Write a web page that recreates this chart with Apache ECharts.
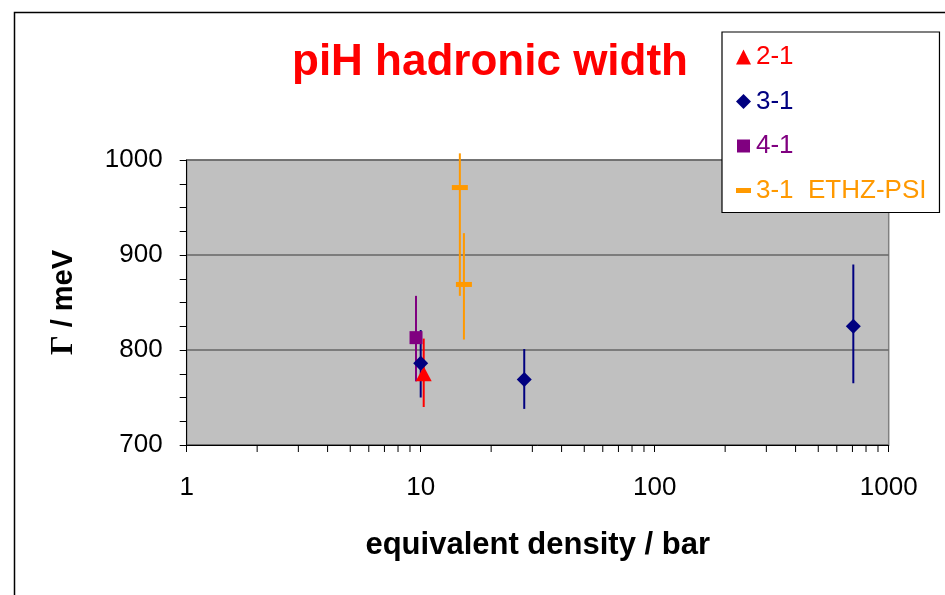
<!DOCTYPE html>
<html><head><meta charset="utf-8">
<script src="https://cdn.jsdelivr.net/npm/echarts@6/dist/echarts.min.js"></script>
<style>html,body{margin:0;padding:0;background:#fff}#c{width:945px;height:595px}</style>
</head><body><div id="c"></div>
<script>
// ---- data ----
const titleText = 'piH hadronic width';
const xName = 'equivalent density / bar';
const yTicks = [700, 800, 900, 1000];
const xTickLabels = [1, 10, 100, 1000];

const name21 = '2-1';
const density21 = [10.3];
const gamma21 = [775];
const low21 = [740];
const high21 = [812];

const name31 = '3-1';
const density31 = [10.0, 27.7, 706];
const gamma31 = [786, 769, 825];
const low31 = [750, 738, 765];
const high31 = [821, 801, 890];

const name41 = '4-1';
const density41 = [9.55];
const gamma41 = [813];
const low41 = [767];
const high41 = [857];

const nameEth = '3-1  ETHZ-PSI';
const densityEth = [14.7, 15.3];
const gammaEth = [971, 869];
const lowEth = [857, 811];
const highEth = [1007, 923];

// ---- build ----
const colors = {r:'#ff0000', b:'#000080', p:'#800080', o:'#ff9900'};
function rows(xs, ys, lo, hi){ return xs.map((x,i)=>[x, ys[i], lo[i], hi[i]]); }
function errRender(color){
  return function(params, api){
    const x = api.value(0), lo = api.value(2), hi = api.value(3);
    const a = api.coord([x, lo]), b = api.coord([x, hi]);
    return {type:'line', shape:{x1:a[0], y1:a[1], x2:b[0], y2:b[1]}, style:{stroke:color, lineWidth:2}};
  };
}
function errSeries(id, data, color){
  return {type:'custom', name:id+' err', renderItem:errRender(color), data:data,
    encode:{x:0, y:[2,3]}, clip:false, z:3, silent:true};
}
function ptSeries(name, data, color, symbol, size, z){
  return {type:'scatter', name:name, data:data.map(r=>[r[0], r[1]]), symbol:symbol, symbolSize:size,
    itemStyle:{color:color, opacity:1}, z:z || 4};
}
// log minor ticks 2..9 within each decade
const minorVals = [];
[1, 10, 100].forEach(d=>{ for(let k=2;k<=9;k++) minorVals.push(d*k); });

const d21 = rows(density21, gamma21, low21, high21);
const d31 = rows(density31, gamma31, low31, high31);
const d41 = rows(density41, gamma41, low41, high41);
const dEth = rows(densityEth, gammaEth, lowEth, highEth);

const chart = echarts.init(document.getElementById('c'), null, {renderer:'canvas'});
const font = '"Liberation Sans", Arial, sans-serif';
chart.setOption({
  animation:false,
  backgroundColor:'#fff',
  textStyle:{fontFamily:font},
  title:{text:titleText, left:490, top:41, textAlign:'center', padding:0,
    textStyle:{color:'#ff0000', fontSize:44, fontWeight:'bold', fontFamily:font, lineHeight:44}},
  grid:{left:186.7, right:56.3, top:160, bottom:150, show:true, backgroundColor:'#c0c0c0',
    borderColor:'#808080', borderWidth:1.5},
  legend:{left:722, top:32, orient:'vertical', padding:[12,13,9,14], itemGap:18.5,
    itemWidth:15, itemHeight:15, backgroundColor:'#fff', borderColor:'#000', borderWidth:1.2,
    textStyle:{fontSize:26, fontFamily:font, lineHeight:26},
    data:[
      {name:name21, icon:'triangle', textStyle:{color:colors.r}},
      {name:name31, icon:'diamond', textStyle:{color:colors.b}},
      {name:name41, icon:'path://M0,0M1,1L14,1L14,14L1,14ZM15,15', textStyle:{color:colors.p}},
      {name:nameEth, icon:'path://M0,0M0,5L15,5L15,10L0,10ZM15,15', textStyle:{color:colors.o}}
    ]},
  xAxis:{type:'log', logBase:10, min:xTickLabels[0], max:xTickLabels[xTickLabels.length-1],
    name:xName, nameLocation:'middle', nameGap:85,
    nameTextStyle:{fontSize:31, fontWeight:'bold', color:'#000', fontFamily:font},
    axisLine:{show:true, onZero:false, lineStyle:{color:'#000', width:1}},
    axisTick:{show:true, length:7, lineStyle:{color:'#000'}},
    axisLabel:{fontSize:26, color:'#000', margin:30, fontFamily:font, formatter:v=>String(v)},
    splitLine:{show:false}},
  yAxis:{type:'value', min:yTicks[0], max:yTicks[yTicks.length-1], interval:100,
    name:'{g|Γ} / meV', nameLocation:'middle', nameGap:107, nameRotate:90,
    nameTextStyle:{fontSize:29, fontWeight:'bold', color:'#000', fontFamily:font,
      rich:{g:{fontFamily:'"Liberation Serif", "Times New Roman", serif', fontSize:31, fontWeight:'bold', color:'#000'}}},
    axisLine:{show:true, lineStyle:{color:'#000', width:1}},
    axisTick:{show:true, length:7, lineStyle:{color:'#000'}},
    minorTick:{show:true, splitNumber:4, length:7, lineStyle:{color:'#000'}},
    axisLabel:{fontSize:26, color:'#000', margin:24, fontFamily:font, formatter:v=>String(v)},
    splitLine:{show:true, lineStyle:{color:'#666', width:1.5}}},
  series:[
    {type:'custom', name:'minor ticks', silent:true, clip:false, z:5,
      data:minorVals.map(v=>[v, yTicks[0]]),
      renderItem:function(params, api){
        const p = api.coord([api.value(0), api.value(1)]);
        return {type:'line', shape:{x1:p[0], y1:p[1], x2:p[0], y2:p[1]+7}, style:{stroke:'#000', lineWidth:1}};
      }},
    errSeries(name41, d41, colors.p),
    ptSeries(name41, d41, colors.p, 'rect', 13, 4),
    errSeries(name21, d21, colors.r),
    ptSeries(name21, d21, colors.r, 'triangle', [16,15], 4),
    errSeries(name31, d31, colors.b),
    ptSeries(name31, d31, colors.b, 'diamond', 15, 4),
    errSeries(nameEth, dEth, colors.o),
    ptSeries(nameEth, dEth, colors.o, 'rect', [16,5], 4)
  ],
  graphic:[{type:'rect', left:12, top:10, shape:{width:1000, height:1000}, silent:true, z:-1,
    style:{fill:null, stroke:'#000', lineWidth:1.5}}]
});
</script>
</body></html>
